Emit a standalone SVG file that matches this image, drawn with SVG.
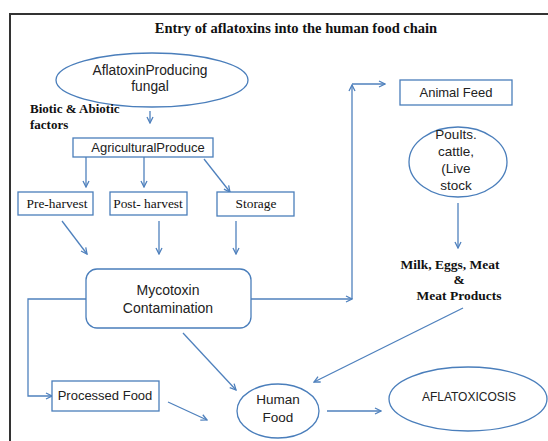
<svg xmlns="http://www.w3.org/2000/svg" width="548" height="441" viewBox="0 0 548 441">
<style>
.box{fill:#fff;stroke:#4a7ebb;stroke-width:1.3}
.t{font-family:"Liberation Sans",Arial,sans-serif;font-size:13px;fill:#222;text-anchor:middle}
.s{font-family:"Liberation Serif","Times New Roman",serif;font-size:13px;font-weight:bold;fill:#111}
.b{font-family:"Liberation Serif","Times New Roman",serif;font-size:13.4px;fill:#111;text-anchor:middle}
.c{fill:none;stroke:#4f81bd;stroke-width:1.3;marker-end:url(#ah)}
</style>
<defs>
<marker id="ah" viewBox="0 0 8 8" refX="7" refY="4" markerWidth="8" markerHeight="8" markerUnits="userSpaceOnUse" orient="auto">
<path d="M1,1 L7,4 L1,7" fill="none" stroke="#4f81bd" stroke-width="1.3"/>
</marker>
</defs>
<rect width="548" height="441" fill="#fff"/>
<path d="M10,441 V14 H548" fill="none" stroke="#333" stroke-width="2"/>
<text x="296" y="33" class="s" style="font-size:14.5px" text-anchor="middle">Entry of aflatoxins into the human food chain</text>

<g id="connectors">
<line class="c" x1="150" y1="111" x2="150" y2="123"/>
<line class="c" x1="86" y1="157" x2="86" y2="187"/>
<line class="c" x1="144" y1="157" x2="144" y2="187"/>
<line class="c" x1="204" y1="159" x2="230" y2="192"/>
<line class="c" x1="62" y1="221" x2="87" y2="254"/>
<line class="c" x1="159" y1="221" x2="159" y2="254"/>
<line class="c" x1="236" y1="221" x2="236" y2="254"/>
<polyline class="c" points="86,299 28,299 28,396 52,396"/>
<line class="c" x1="251" y1="299" x2="352" y2="299"/>
<line class="c" x1="352" y1="299" x2="352" y2="85"/>
<line class="c" x1="352" y1="84" x2="385" y2="84"/>
<line class="c" x1="458" y1="203" x2="458" y2="248"/>
<line class="c" x1="463" y1="308" x2="314" y2="382"/>
<line class="c" x1="183" y1="333" x2="236" y2="390"/>
<line class="c" x1="168" y1="402" x2="207" y2="420"/>
<line class="c" x1="327" y1="411" x2="381" y2="411"/>
</g>

<g id="fungal">
<ellipse class="box" cx="152" cy="80" rx="96" ry="27"/>
<text class="t" x="150" y="75" style="font-size:13.8px">AflatoxinProducing</text>
<text class="t" x="150" y="91" style="font-size:13.8px">fungal</text>
</g>
<g id="biotic">
<text class="s" x="30" y="113">Biotic &amp; Abiotic</text>
<text class="s" x="30" y="129">factors</text>
</g>
<g id="agri">
<rect class="box" x="73" y="138" width="140" height="19"/>
<text class="t" x="148" y="152">AgriculturalProduce</text>
</g>
<g id="preharvest">
<rect class="box" x="18" y="192" width="75" height="23"/>
<text class="b" x="57" y="208">Pre-harvest</text>
</g>
<g id="postharvest">
<rect class="box" x="110" y="192" width="77" height="23"/>
<text class="b" x="148" y="208">Post- harvest</text>
</g>
<g id="storage">
<rect class="box" x="217" y="192" width="77" height="24"/>
<text class="b" x="256" y="208">Storage</text>
</g>
<g id="mycotoxin">
<rect class="box" x="86" y="269" width="165" height="59" rx="11"/>
<text class="t" x="168" y="295" style="font-size:14px">Mycotoxin</text>
<text class="t" x="168" y="313" style="font-size:14px">Contamination</text>
</g>
<g id="processed">
<rect class="box" x="52" y="381" width="107" height="30"/>
<text class="t" x="105" y="400">Processed Food</text>
</g>
<g id="animalfeed">
<rect class="box" x="400" y="80" width="112" height="25"/>
<text class="t" x="456" y="97">Animal Feed</text>
</g>
<g id="poults">
<ellipse class="box" cx="458" cy="162" rx="49" ry="35"/>
<text class="t" x="456" y="139" style="font-size:13.5px">Poults.</text>
<text class="t" x="456" y="156" style="font-size:13.5px">cattle,</text>
<text class="t" x="456" y="173" style="font-size:13.5px">(Live</text>
<text class="t" x="456" y="190" style="font-size:13.5px">stock</text>
</g>
<g id="milk">
<text class="s" x="450" y="269" text-anchor="middle" style="font-size:13.5px">Milk, Eggs, Meat</text>
<text class="s" x="459" y="284" text-anchor="middle" style="font-size:13.5px">&amp;</text>
<text class="s" x="459" y="300" text-anchor="middle" style="font-size:13.5px">Meat Products</text>
</g>
<g id="humanfood">
<ellipse class="box" cx="278" cy="411" rx="41" ry="27"/>
<text class="t" x="278" y="404" style="font-size:13.5px">Human</text>
<text class="t" x="278" y="422" style="font-size:13.5px">Food</text>
</g>
<g id="aflatoxicosis">
<ellipse class="box" cx="468" cy="399" rx="79" ry="32"/>
<text class="t" x="469" y="401" style="font-size:12px">AFLATOXICOSIS</text>
</g>
</svg>
